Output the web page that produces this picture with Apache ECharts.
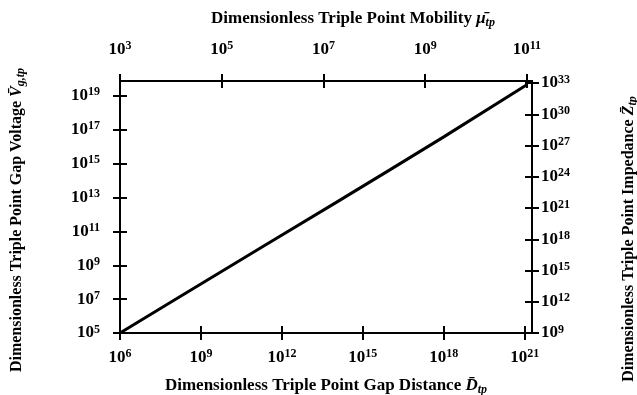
<!DOCTYPE html>
<html>
<head>
<meta charset="utf-8">
<script src="https://cdn.jsdelivr.net/npm/echarts@6/dist/echarts.min.js"></script>
<style>html,body{margin:0;padding:0;background:#fff;}#c{width:637px;height:395px;}</style>
</head>
<body>
<div id="c"></div>
<script>
// Data
var gapDistance = [1e6, 1e8, 1.6e11, 1e14, 1e16, 1e18, 1.2e21];
var gapVoltage  = [1e5, 8.5e6, 1.05e10, 5e12, 4.3e14, 3.8e16, 4.5e19];

// Axis ranges and tick labels (powers of ten)
var bottomRange = [1e6, Math.pow(10, 21.27)];
var topRange    = [1e3, Math.pow(10, 11.1)];
var leftRange   = [1e5, Math.pow(10, 19.88)];
var rightRange  = [1e9, Math.pow(10, 33.2)];
var bottomTicks = [1e6, 1e9, 1e12, 1e15, 1e18, 1e21];
var topTicks    = [1e3, 1e5, 1e7, 1e9, 1e11];
var leftTicks   = [1e5, 1e7, 1e9, 1e11, 1e13, 1e15, 1e17, 1e19];
var rightTicks  = [1e9, 1e12, 1e15, 1e18, 1e21, 1e24, 1e27, 1e30, 1e33];

var FONT = '"Liberation Serif", "DejaVu Serif", serif';

function expLabel(v) {
  var e = Math.log10(v);
  var r = Math.round(e);
  if (Math.abs(e - r) > 1e-6) return '';
  return '{b|10}{s|' + r + '}';
}
var labelRich = {
  b: { fontFamily: FONT, fontWeight: 'bold', fontSize: 17, color: '#000', lineHeight: 19 },
  s: { fontFamily: FONT, fontWeight: 'bold', fontSize: 12, color: '#000', lineHeight: 12, verticalAlign: 'top' }
};
function nameRich(size) {
  return {
    n: { fontFamily: FONT, fontWeight: 'bold', fontSize: size, color: '#000' },
    v: { fontFamily: FONT, fontWeight: 'bold', fontStyle: 'italic', fontSize: size, color: '#000' },
    sub: { fontFamily: FONT, fontWeight: 'bold', fontStyle: 'italic', fontSize: Math.round(size * 0.72), color: '#000', padding: [8, 0, 0, 0] }
  };
}

function mkAxis(kind, pos, range, ticks, withLabels, inside, name, nameGap, namePad, nameSize) {
  var a = {
    type: 'log', logBase: 10, position: pos,
    min: range[0], max: range[1],
    splitLine: { show: false },
    axisLine: { show: true, lineStyle: { color: '#000', width: 2 } },
    axisTick: { show: true, inside: inside, length: 7, customValues: ticks, lineStyle: { color: '#000', width: 2 } },
    axisLabel: { show: withLabels, customValues: ticks, formatter: expLabel, rich: labelRich },
    silent: true
  };
  if (withLabels && name) {
    a.name = name;
    a.nameLocation = 'middle';
    a.nameGap = nameGap;
    a.nameTextStyle = { rich: nameRich(nameSize), padding: namePad || 0 };
    if (kind === 'y') a.nameRotate = 90;
  }
  return a;
}

var xBottom = mkAxis('x', 'bottom', bottomRange, bottomTicks, true, false,
  '{n|Dimensionless Triple Point Gap Distance }{v|D\u0304}{sub|tp}', 43, 0, 17);
xBottom.axisLabel.margin = 15;
var xTop = mkAxis('x', 'top', topRange, topTicks, true, false,
  '{n|Dimensionless Triple Point Mobility }{v|\u03BC\u0304}{sub|tp}', 52, [0, 0, 0, 54], 17);
xTop.axisLabel.margin = 22;
var yLeft = mkAxis('y', 'left', leftRange, leftTicks, true, false,
  '{n|Dimensionless Triple Point Gap Voltage }{v|V\u0304}{sub|g,tp}', 93, [0, 26, 0, 0], 16);
yLeft.axisLabel.margin = 20;
var yRight = mkAxis('y', 'right', rightRange, rightTicks, true, false,
  '{n|Dimensionless Triple Point Impedance }{v|Z\u0304}{sub|tp}', 87, [0, 64, 0, 0], 16);
yRight.axisLabel.margin = 9;

var option = {
  animation: false,
  backgroundColor: '#fff',
  grid: { left: 120, right: 105, top: 81, bottom: 62, containLabel: false, outerBoundsMode: 'none' },
  xAxis: [
    xBottom, xTop,
    mkAxis('x', 'bottom', bottomRange, bottomTicks, false, true),
    mkAxis('x', 'top', topRange, topTicks, false, true)
  ],
  yAxis: [
    yLeft, yRight,
    mkAxis('y', 'left', leftRange, leftTicks, false, true),
    mkAxis('y', 'right', rightRange, rightTicks, false, true)
  ],
  series: [{
    type: 'line',
    xAxisIndex: 0, yAxisIndex: 0,
    data: gapDistance.map(function (d, i) { return [d, gapVoltage[i]]; }),
    showSymbol: false, symbol: 'none',
    lineStyle: { color: '#000', width: 3 }
  }]
};
var chart = echarts.init(document.getElementById('c'), null, { renderer: 'canvas' });
chart.setOption(option);
</script>
</body>
</html>
